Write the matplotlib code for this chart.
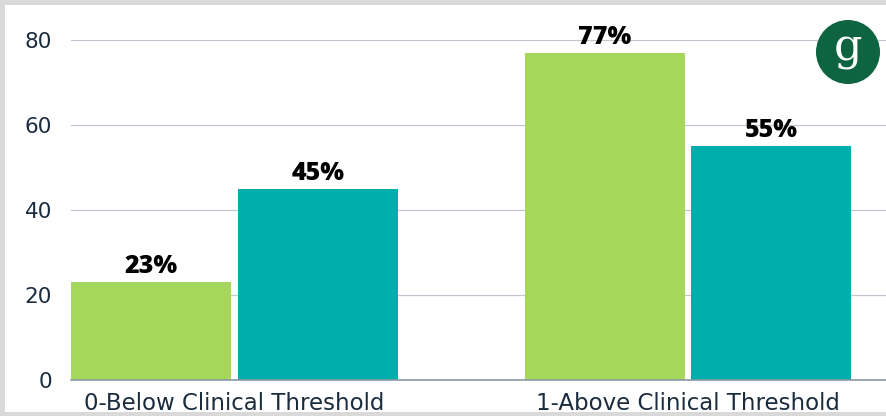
import numpy as np
import matplotlib
matplotlib.use("Agg")
import matplotlib.pyplot as plt
from matplotlib.patches import Rectangle, Circle

# data
categories = ["0-Below Clinical Threshold", "1-Above Clinical Threshold"]
series_a = [23, 77]   # green
series_b = [45, 55]   # teal
yticks = [0, 20, 40, 60, 80]

GREEN = "#a6d75d"
TEAL = "#00aeab"
TEXT = "#1b2c3e"

fig = plt.figure(figsize=(8.86, 4.16), dpi=100)
fig.patch.set_facecolor("white")

# gray frame around the card
for rect in [(0, 1 - 5 / 416, 1, 5 / 416), (0, 0, 5 / 886, 1), (0, 0, 1, 4 / 416)]:
    fig.patches.append(Rectangle(rect[:2], rect[2], rect[3], transform=fig.transFigure,
                                 facecolor="#d9d9d9", edgecolor="none", zorder=0))

ax = fig.add_axes([71 / 886, 1 - 380 / 416, 815 / 886, 340 / 416])
ax.set_facecolor("none")

x = np.arange(len(categories))
w = 0.353
off = 0.184
bars_a = ax.bar(x - off, series_a, width=w, color=GREEN, zorder=2)
bars_b = ax.bar(x + off, series_b, width=w, color=TEAL, zorder=2)

for bars in (bars_a, bars_b):
    for b in bars:
        ax.annotate(f"{b.get_height():.0f}%", (b.get_x() + b.get_width() / 2, b.get_height()),
                    xytext=(0, 6.5), textcoords="offset points", ha="center", va="baseline",
                    fontsize=18, fontweight="heavy", family="Open Sans",
                    color="black", zorder=4, annotation_clip=False)

ax.set_xlim(-0.3605, 1.4366)
ax.set_ylim(0, 80)
ax.set_yticks(yticks)
ax.set_xticks(x)
ax.set_xticklabels(categories)
ax.tick_params(axis="y", length=0, pad=13.7, labelsize=15.5, labelcolor=TEXT)
ax.tick_params(axis="x", length=0, pad=8.5, labelsize=16.5, labelcolor=TEXT)

ax.yaxis.grid(True, color="#c3c8d0", linewidth=0.9, zorder=0)
ax.set_axisbelow(True)
for s in ["top", "right", "left"]:
    ax.spines[s].set_visible(False)
ax.spines["bottom"].set_color("#8c99a6")
ax.spines["bottom"].set_linewidth(1.2)
ax.spines["bottom"].set_zorder(3)

# logo badge
lax = fig.add_axes([816 / 886, 1 - 84 / 416, 64 / 886, 64 / 416])
lax.set_xlim(-1, 1)
lax.set_ylim(-1, 1)
lax.axis("off")
lax.add_patch(Circle((0, 0), 1, facecolor="#0e6340", edgecolor="none"))
lax.text(0, 0.12, "g", ha="center", va="center", color="white", fontsize=32,
         family="DejaVu Serif")

fig.savefig("out.png", dpi=100)
